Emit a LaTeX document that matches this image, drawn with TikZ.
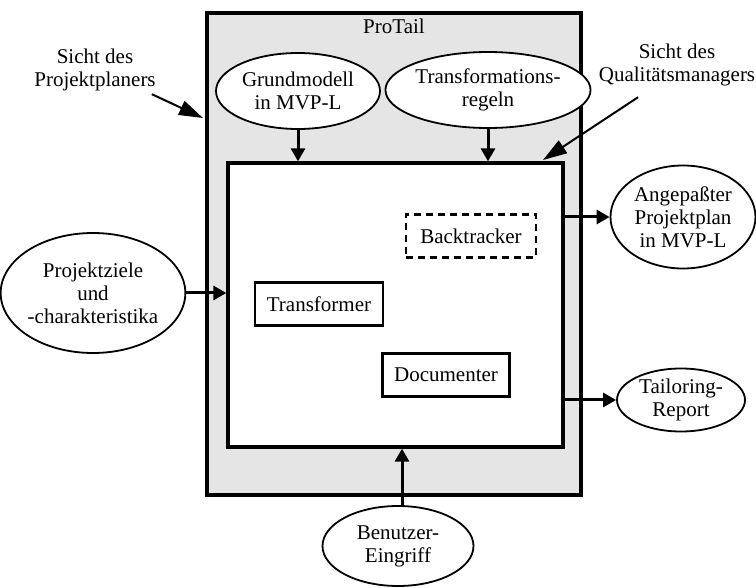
\documentclass[tikz,border=0pt]{standalone}
\usepackage{fontspec}
\setmainfont{Liberation Serif}
\usetikzlibrary{arrows.meta,shapes.geometric}

\begin{document}
\begin{tikzpicture}[x=1pt,y=-1pt,font=\fontsize{21}{23}\selectfont]
\useasboundingbox (0,0) rectangle (756,588);

\begin{scope}[every node/.style={draw,line width=3.3pt}]
	\node[fill=gray!20,minimum width=374pt,minimum height=482pt] (protail) at (394,254) {};
	\node[fill=white,minimum width=335pt,minimum height=284pt] (inner) at (395.5,305) {};
\end{scope}
\node (title) at (394,26) {ProTail};

\begin{scope}[every node/.style={ellipse,draw,line width=1.8pt,fill=white,inner sep=0pt,align=center}]
	\node[minimum width=164pt,minimum height=76pt] (gm) at (298,91) {Grundmodell\\in MVP-L};
	\node[minimum width=167pt,minimum height=76pt] (tr) at (488,90) {Transformations-\\regeln};
	\node[minimum width=160pt,minimum height=120pt] (pz) at (93,293) {Projektziele\\und\\-charakteristika};
	\node[minimum width=145pt,minimum height=103pt] (ang) at (683,217) {Angepaßter\\Projektplan\\in MVP-L};
	\node[minimum width=128pt,minimum height=63pt] (rep) at (681,400) {Tailoring-\\Report};
	\node[minimum width=151pt,minimum height=80pt] (be) at (398,546) {Benutzer-\\Eingriff};
\end{scope}

\begin{scope}[every node/.style={draw,line width=2.6pt,fill=white,minimum height=43pt}]
	\node[minimum width=128pt] (tf) at (319,304) {Transformer};
	\node[minimum width=127pt] (doc) at (446,375) {Documenter};
	\node[minimum width=130pt,dash pattern=on 7pt off 5pt] (bt) at (471,236) {Backtracker};
\end{scope}

\begin{scope}[every node/.style={align=center,inner sep=1pt}]
	\node (spp) at (95,70) {Sicht des\\Projektplaners};
	\node (sqm) at (677,65) {Sicht des\\Qualitätsmanagers};
\end{scope}
\coordinate (ppview) at (203,118);
\coordinate (qmview) at (543,160);

\begin{scope}[>={Triangle[length=13pt,width=14pt]},
              every edge/.style={draw=black,line width=3pt}]
	\path [->] (gm) edge (gm |- inner.north);
	\path [->] (tr) edge (tr |- inner.north);
	\path [->] (pz) edge (inner.west |- pz);
	\path [->] (inner.east |- ang) edge (ang);
	\path [->] (inner.east |- rep) edge (rep);
	\path [->] ([xshift=4pt]be.north) edge ([xshift=4pt]be.north |- inner.south);
\end{scope}

\begin{scope}[>={Triangle[length=24pt,width=15pt]},
              every edge/.style={draw=black,line width=2pt}]
	\path [->] ([xshift=-5pt,yshift=-2pt]spp.south east) edge (ppview);
	\path [->] ([xshift=-39pt,yshift=-10pt]sqm.south) edge (qmview);
\end{scope}
\end{tikzpicture}
\end{document}
